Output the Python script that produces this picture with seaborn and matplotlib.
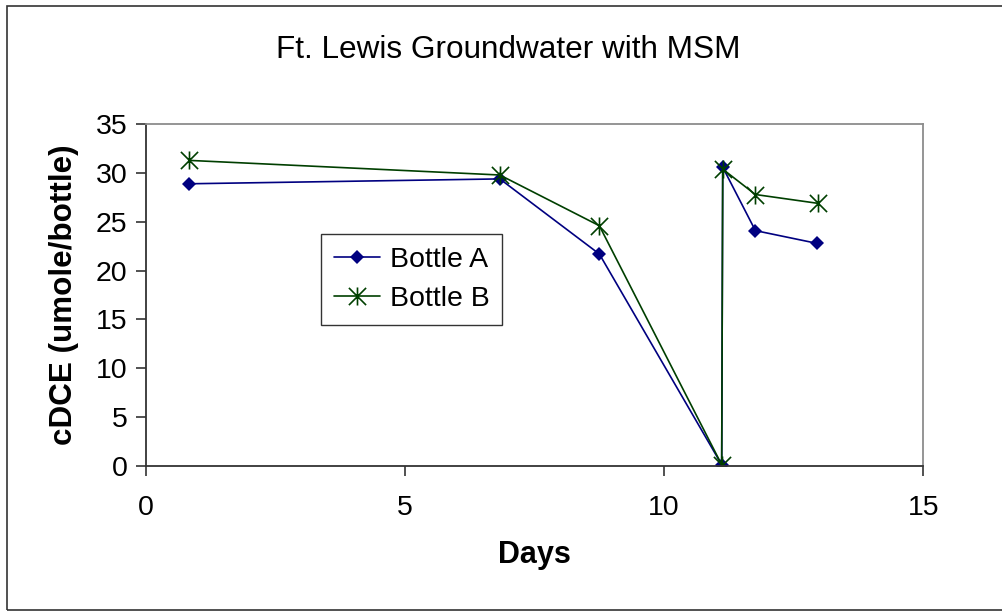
import pandas as pd
import seaborn as sns
import matplotlib.pyplot as plt
from matplotlib.path import Path
from matplotlib.patches import Rectangle

# data
days_a = [0.83, 6.83, 8.75, 11.11, 11.13, 11.76, 12.94]
cdce_a = [28.9, 29.4, 21.7, 0.1, 30.6, 24.1, 22.8]
days_b = [0.83, 6.83, 8.75, 11.11, 11.13, 11.76, 12.96]
cdce_b = [31.3, 29.8, 24.6, 0.1, 30.4, 27.8, 26.9]
series = ["Bottle A", "Bottle B"]

df_a = pd.DataFrame({"Days": days_a, "cDCE": cdce_a})
df_b = pd.DataFrame({"Days": days_b, "cDCE": cdce_b})

sns.set_style("white")
plt.rcParams['font.family'] = ['Liberation Sans', 'DejaVu Sans']
plt.rcParams['text.color'] = 'black'
plt.rcParams['xtick.color'] = 'black'
plt.rcParams['ytick.color'] = 'black'
plt.rcParams['axes.labelcolor'] = 'black'

# excel style star: X with a vertical bar
star = Path([(-1, -1), (1, 1), (-1, 1), (1, -1), (0, -1.05), (0, 1.05)],
            [Path.MOVETO, Path.LINETO, Path.MOVETO, Path.LINETO, Path.MOVETO, Path.LINETO])

fig = plt.figure(figsize=(10.03, 6.11), dpi=100)
ax = fig.add_axes([0.1453, 0.2378, 0.7753, 0.5588])

sns.lineplot(data=df_a, x="Days", y="cDCE", sort=False, estimator=None, ax=ax,
             color="#000080", marker="D", markersize=7.2, markeredgewidth=0,
             linewidth=1.2, label=series[0])
sns.lineplot(data=df_b, x="Days", y="cDCE", sort=False, estimator=None, ax=ax,
             color="#003f00", marker=star, markersize=13, markeredgewidth=1.2,
             markerfacecolor="none", markeredgecolor="#003f00",
             linewidth=1.2, label=series[1])

ax.set_xlim(0, 15)
ax.set_ylim(0, 35)
ax.set_xticks([0, 5, 10, 15])
ax.set_yticks(range(0, 36, 5))
ax.tick_params(axis="both", direction="out", length=7, width=1.2, labelsize=20.5,
               color="#333333", left=True, bottom=True, pad=6)
ax.tick_params(axis="x", pad=14)

for side in ["left", "bottom"]:
    ax.spines[side].set_color("#333333")
    ax.spines[side].set_linewidth(1.3)
for side in ["top", "right"]:
    ax.spines[side].set_color("#8c8c8c")
    ax.spines[side].set_linewidth(1.3)

ax.set_xlabel("Days", fontsize=22, fontweight="bold", labelpad=14)
ax.set_ylabel("cDCE (umole/bottle)", fontsize=22.6, fontweight="bold", labelpad=12)
fig.text(0.507, 0.918, "Ft. Lewis Groundwater with MSM", fontsize=22.7, ha="center", va="center")

handles, labels = ax.get_legend_handles_labels()
leg = ax.legend(handles, labels, loc="upper left", bbox_to_anchor=(0.2256, 0.678),
                fontsize=20.5, frameon=True, fancybox=False, edgecolor="black",
                handlelength=1.6, handletextpad=0.35, borderpad=0.45, labelspacing=0.45,
                borderaxespad=0)
leg.get_frame().set_linewidth(1.0)

fig.patches.append(Rectangle((7 / 1003, 1.5 / 611), 1.0, (611 - 5.5 - 1.5) / 611,
                             transform=fig.transFigure, fill=False,
                             edgecolor="#333333", linewidth=1.2))

fig.savefig("out.png", dpi=100)
